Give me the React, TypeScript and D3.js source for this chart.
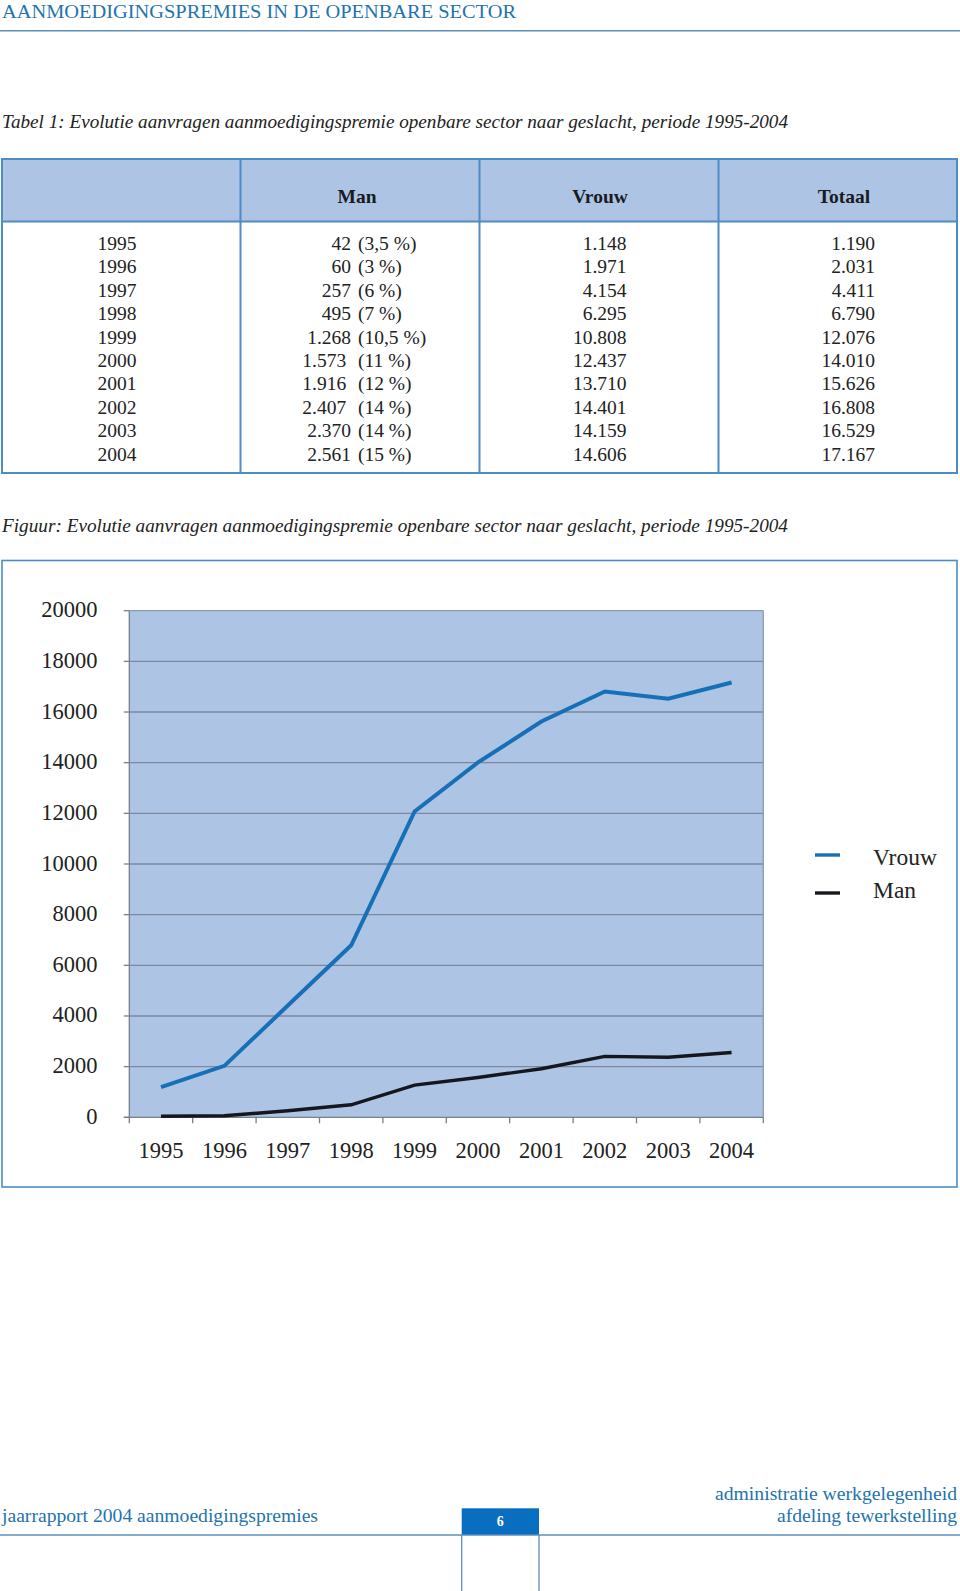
import React from 'react';
import * as d3 from 'd3';

const years = ['1995', '1996', '1997', '1998', '1999', '2000', '2001', '2002', '2003', '2004'];
const manValues = [42, 60, 257, 495, 1268, 1573, 1916, 2407, 2370, 2561];
const manLabels = ['42 (3,5 %)', '60 (3 %)', '257 (6 %)', '495 (7 %)', '1.268 (10,5 %)', '1.573  (11 %)', '1.916  (12 %)', '2.407  (14 %)', '2.370 (14 %)', '2.561 (15 %)'];
const vrouwValues = [1148, 1971, 4154, 6295, 10808, 12437, 13710, 14401, 14159, 14606];
const totaalValues = [1190, 2031, 4411, 6790, 12076, 14010, 15626, 16808, 16529, 17167];
// the figure's "Vrouw" line follows the Totaal column
const chartVrouw = totaalValues;
const chartMan = manValues;
const yTicks = [0, 2000, 4000, 6000, 8000, 10000, 12000, 14000, 16000, 18000, 20000];
const tableHeaders = ['Man', 'Vrouw', 'Totaal'];
const legendItems = [
  { name: 'Vrouw', color: '#1670b8' },
  { name: 'Man', color: '#16161e' },
];

const nl = d3.formatLocale({ decimal: ',', thousands: '.', grouping: [3], currency: ['', ''] });
const fmt = nl.format(',d');

const SERIF = '"Liberation Serif", "DejaVu Serif", serif';
const ACCENT = '#2273ad';
const BORDER = '#4d8cc4';
const FILL = '#aec4e4';

export default function App() {
  const x = d3.scaleBand<string>().domain(years).range([129.3, 763.3]).paddingInner(0).paddingOuter(0);
  const y = d3.scaleLinear().domain([0, 20000]).range([1117.3, 610.7]);
  const cx = (yr: string) => (x(yr) as number) + x.bandwidth() / 2;
  const line = d3
    .line<number>()
    .x((_, i) => cx(years[i]))
    .y((d) => y(d));

  const rowY = d3.scaleLinear().domain([0, 9]).range([250, 460.7]);

  const plotL = x.range()[0];
  const plotR = x.range()[1];

  return (
    <svg
      width={960}
      height={1591}
      style={{ position: 'absolute', left: 0, top: 0, display: 'block', background: '#fff' }}
      fontFamily={SERIF}
    >
      {/* page header */}
      <text x={2} y={17.5} fontSize={19.5} fill={ACCENT} textLength={514} lengthAdjust="spacingAndGlyphs">
        AANMOEDIGINGSPREMIES IN DE OPENBARE SECTOR
      </text>
      <line x1={0} x2={960} y1={30.7} y2={30.7} stroke="#5b8fbb" strokeWidth={1.6} />

      {/* table caption */}
      <text x={2} y={128.3} fontSize={19.5} fontStyle="italic" fill="#222" textLength={786} lengthAdjust="spacingAndGlyphs">
        Tabel 1: Evolutie aanvragen aanmoedigingspremie openbare sector naar geslacht, periode 1995-2004
      </text>

      {/* table */}
      <rect x={2} y={159} width={955} height={62.5} fill={FILL} />
      <rect x={2} y={159} width={955} height={314} fill="none" stroke={BORDER} strokeWidth={2} />
      <line x1={2} x2={957} y1={221.5} y2={221.5} stroke={BORDER} strokeWidth={2} />
      {[240.5, 479.5, 718.5].map((xx) => (
        <line key={xx} x1={xx} x2={xx} y1={159} y2={473} stroke={BORDER} strokeWidth={2} />
      ))}
      {tableHeaders.map((h, i) => (
        <text key={h} x={[357, 600, 844][i]} y={203} fontSize={19.5} fontWeight="bold" textAnchor="middle" fill="#1a1a22">
          {h}
        </text>
      ))}
      {years.map((yr, i) => {
        const lab = manLabels[i];
        const idx = lab.indexOf('(');
        const num = lab.slice(0, idx - 1);
        const rest = lab.slice(idx);
        return (
          <g key={yr} fontSize={19.5} fill="#222">
            <text x={117} y={rowY(i)} textAnchor="middle">{yr}</text>
            <text x={351} y={rowY(i)} textAnchor="end" style={{ whiteSpace: 'pre' }}>{num}</text>
            <text x={358} y={rowY(i)}>{rest}</text>
            <text x={626.5} y={rowY(i)} textAnchor="end">{fmt(vrouwValues[i])}</text>
            <text x={875} y={rowY(i)} textAnchor="end">{fmt(totaalValues[i])}</text>
          </g>
        );
      })}

      {/* figure caption */}
      <text x={2} y={531.5} fontSize={19.5} fontStyle="italic" fill="#222" textLength={786} lengthAdjust="spacingAndGlyphs">
        Figuur: Evolutie aanvragen aanmoedigingspremie openbare sector naar geslacht, periode 1995-2004
      </text>

      {/* chart frame */}
      <rect x={2} y={560.5} width={955} height={626.5} fill="#fff" stroke={BORDER} strokeWidth={1.6} />

      {/* plot area */}
      <rect x={plotL} y={y(20000)} width={plotR - plotL} height={y(0) - y(20000)} fill={FILL} />
      {yTicks.filter((t) => t > 0).map((t) => (
        <line key={t} x1={plotL} x2={plotR} y1={y(t)} y2={y(t)} stroke={t === 20000 ? '#8f9aaa' : '#7b88a0'} strokeWidth={1.3} />
      ))}
      <line x1={plotR} x2={plotR} y1={y(20000)} y2={y(0)} stroke="#8f9aaa" strokeWidth={1.3} />
      <line x1={plotL} x2={plotL} y1={y(20000)} y2={y(0)} stroke="#7a7f88" strokeWidth={1.3} />
      {yTicks.map((t) => (
        <g key={'yt' + t}>
          <line x1={plotL - 5.5} x2={plotL} y1={y(t)} y2={y(t)} stroke="#7a7f88" strokeWidth={1.3} />
          <text x={97.5} y={y(t) + 6.5} fontSize={22.5} textAnchor="end" fill="#222">{t}</text>
        </g>
      ))}
      <line x1={plotL - 5.5} x2={plotR} y1={y(0)} y2={y(0)} stroke="#7a7f88" strokeWidth={1.3} />
      {[...years.map((yr) => x(yr) as number), plotR].map((xx, i) => (
        <line key={'xt' + i} x1={xx} x2={xx} y1={y(0)} y2={y(0) + 6} stroke="#7a7f88" strokeWidth={1.3} />
      ))}
      {years.map((yr) => (
        <text key={'xl' + yr} x={cx(yr)} y={1157.7} fontSize={22.5} textAnchor="middle" fill="#222">{yr}</text>
      ))}

      {/* series */}
      <path d={line(chartMan) as string} fill="none" stroke={legendItems[1].color} strokeWidth={3.4} strokeLinejoin="miter" />
      <path d={line(chartVrouw) as string} fill="none" stroke={legendItems[0].color} strokeWidth={4} strokeLinejoin="miter" />

      {/* legend */}
      {legendItems.map((it, i) => (
        <g key={it.name}>
          <line x1={815} x2={840} y1={855 + i * 38} y2={855 + i * 38} stroke={it.color} strokeWidth={3.4} />
          <text x={873} y={864.5 + i * 33.5} fontSize={23.5} fill="#222">{it.name}</text>
        </g>
      ))}

      {/* footer */}
      <text x={957} y={1500} fontSize={18.5} textAnchor="end" fill={ACCENT} textLength={242} lengthAdjust="spacingAndGlyphs">
        administratie werkgelegenheid
      </text>
      <text x={957} y={1521.7} fontSize={18.5} textAnchor="end" fill={ACCENT} textLength={180} lengthAdjust="spacingAndGlyphs">
        afdeling tewerkstelling
      </text>
      <text x={2} y={1521.7} fontSize={18.5} fill={ACCENT} textLength={316} lengthAdjust="spacingAndGlyphs">
        jaarrapport 2004 aanmoedigingspremies
      </text>
      <rect x={461.7} y={1508.3} width={77.3} height={26.7} fill="#0a6ec0" />
      <text x={500.3} y={1526} fontSize={14} fontWeight="bold" textAnchor="middle" fill="#fff">6</text>
      <line x1={0} x2={960} y1={1535} y2={1535} stroke="#5b8fbb" strokeWidth={1.6} />
      <line x1={461.7} x2={461.7} y1={1535} y2={1591} stroke="#5b8fbb" strokeWidth={1.3} />
      <line x1={539} x2={539} y1={1535} y2={1591} stroke="#5b8fbb" strokeWidth={1.3} />
    </svg>
  );
}
